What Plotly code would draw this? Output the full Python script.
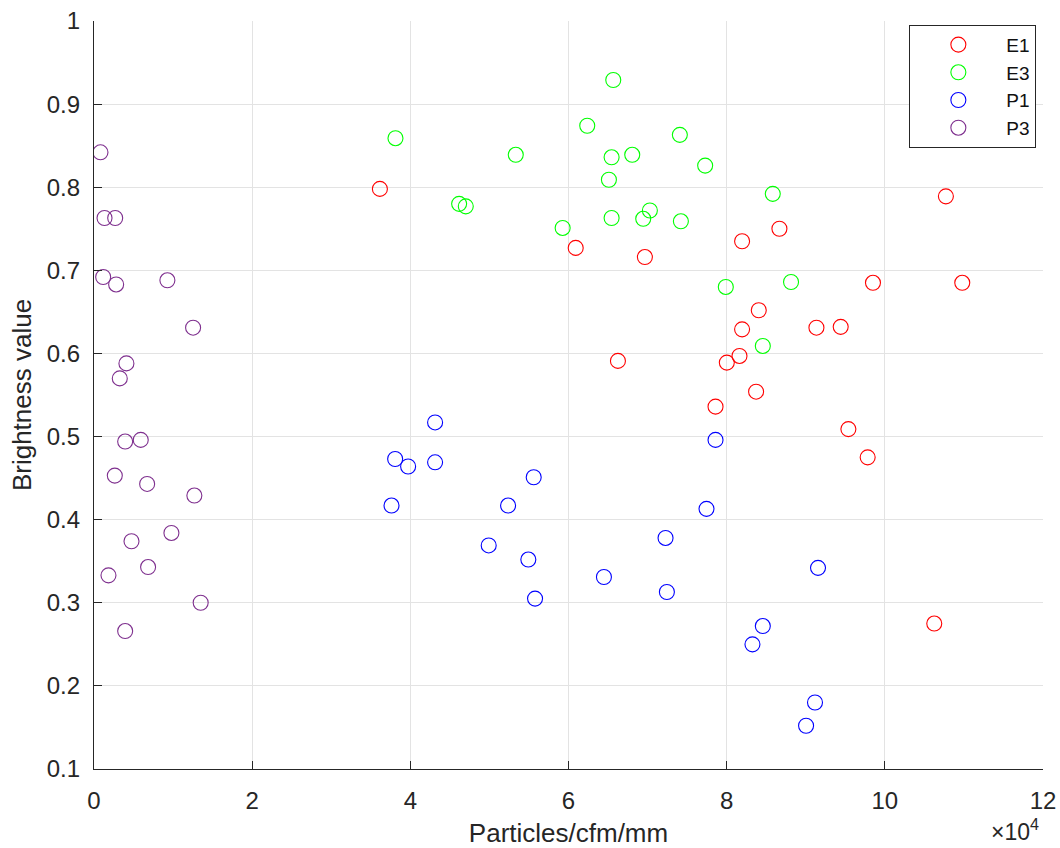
import plotly.graph_objects as go

# Particle concentration (x, in units of 1e4 particles/cfm/mm) and brightness per sample group
e1_x = [3.615, 6.091, 6.966, 6.625, 10.772, 8.667, 8.195, 9.850, 10.979, 8.406,
        8.195, 9.135, 9.442, 8.162, 8.002, 8.372, 7.859, 9.539, 9.783, 10.625]
e1_y = [0.798, 0.727, 0.716, 0.591, 0.789, 0.750, 0.735, 0.685, 0.685, 0.652,
        0.629, 0.631, 0.632, 0.597, 0.589, 0.554, 0.536, 0.509, 0.475, 0.275]

e3_x = [3.812, 5.333, 6.237, 6.545, 6.806, 6.511, 4.617, 4.701, 5.926, 6.545,
        7.029, 6.945, 7.408, 7.728, 8.583, 7.421, 7.989, 8.814, 8.457, 6.566]
e3_y = [0.859, 0.839, 0.874, 0.836, 0.839, 0.809, 0.780, 0.777, 0.751, 0.763,
        0.772, 0.762, 0.863, 0.826, 0.792, 0.759, 0.680, 0.686, 0.609, 0.929]

p1_x = [4.313, 3.808, 3.972, 4.313, 5.560, 3.762, 5.236, 4.991, 5.492, 5.577,
        6.448, 7.227, 7.244, 7.859, 7.745, 9.155, 8.457, 8.326, 9.117, 9.004]
p1_y = [0.517, 0.473, 0.464, 0.469, 0.451, 0.417, 0.417, 0.369, 0.352, 0.305,
        0.331, 0.378, 0.313, 0.496, 0.413, 0.342, 0.272, 0.250, 0.180, 0.152]

p3_x = [0.082, 0.133, 0.268, 0.116, 0.280, 0.928, 1.253, 0.410, 0.326, 0.394,
        0.591, 0.263, 0.672, 1.269, 0.979, 0.474, 0.684, 0.183, 1.349, 0.394]
p3_y = [0.842, 0.763, 0.763, 0.692, 0.683, 0.688, 0.631, 0.588, 0.570, 0.494,
        0.496, 0.453, 0.443, 0.429, 0.384, 0.374, 0.343, 0.333, 0.300, 0.266]

series = [
    ("E1", e1_x, e1_y, "#FF0000"),
    ("E3", e3_x, e3_y, "#00FF00"),
    ("P1", p1_x, p1_y, "#0000FF"),
    ("P3", p3_x, p3_y, "#7E2F8E"),
]

FONT = "Liberation Sans, Arial, Helvetica, sans-serif"
AXIS = "#262626"

fig = go.Figure()
for name, xs, ys, color in series:
    fig.add_trace(go.Scatter(
        x=xs, y=ys, mode="markers", name=name,
        marker=dict(symbol="circle-open", size=15, color=color,
                    line=dict(width=1.1, color=color)),
    ))

axis_common = dict(
    showline=True, linecolor=AXIS, linewidth=1.2,
    showgrid=True, gridcolor="#e3e3e3", gridwidth=1,
    ticks="inside", ticklen=8, tickcolor=AXIS, tickwidth=1,
    tickfont=dict(family=FONT, size=24, color=AXIS),
    zeroline=False, mirror=False, automargin=False,
)

fig.update_layout(
    width=1060, height=848,
    margin=dict(l=94, r=17, t=21, b=79),
    paper_bgcolor="white", plot_bgcolor="white",
    font=dict(family=FONT, color=AXIS),
    xaxis=dict(range=[0, 12], tick0=0, dtick=2, ticklabelstandoff=10,
               title=dict(text="Particles/cfm/mm", font=dict(size=26, color=AXIS), standoff=14),
               **axis_common),
    yaxis=dict(range=[0.1, 1.0], tick0=0.1, dtick=0.1, tickformat=".1~f",
               ticklabelstandoff=8,
               title=dict(text="Brightness value", font=dict(size=26, color=AXIS), standoff=7),
               **axis_common),
    legend=dict(x=0.993, y=0.995, xanchor="right", yanchor="top",
                bgcolor="white", bordercolor=AXIS, borderwidth=1,
                font=dict(family=FONT, size=19, color="#111111"),
                itemwidth=86, tracegroupgap=0),
    showlegend=True,
)

# Scale factor for the x axis values
fig.add_annotation(
    xref="paper", yref="paper", x=1.0, y=0, xanchor="right", yanchor="bottom",
    yshift=-78, xshift=-2, text="\u00d710<sup>4</sup>", showarrow=False,
    font=dict(family=FONT, size=23, color=AXIS),
)

fig.write_html("out.html")
